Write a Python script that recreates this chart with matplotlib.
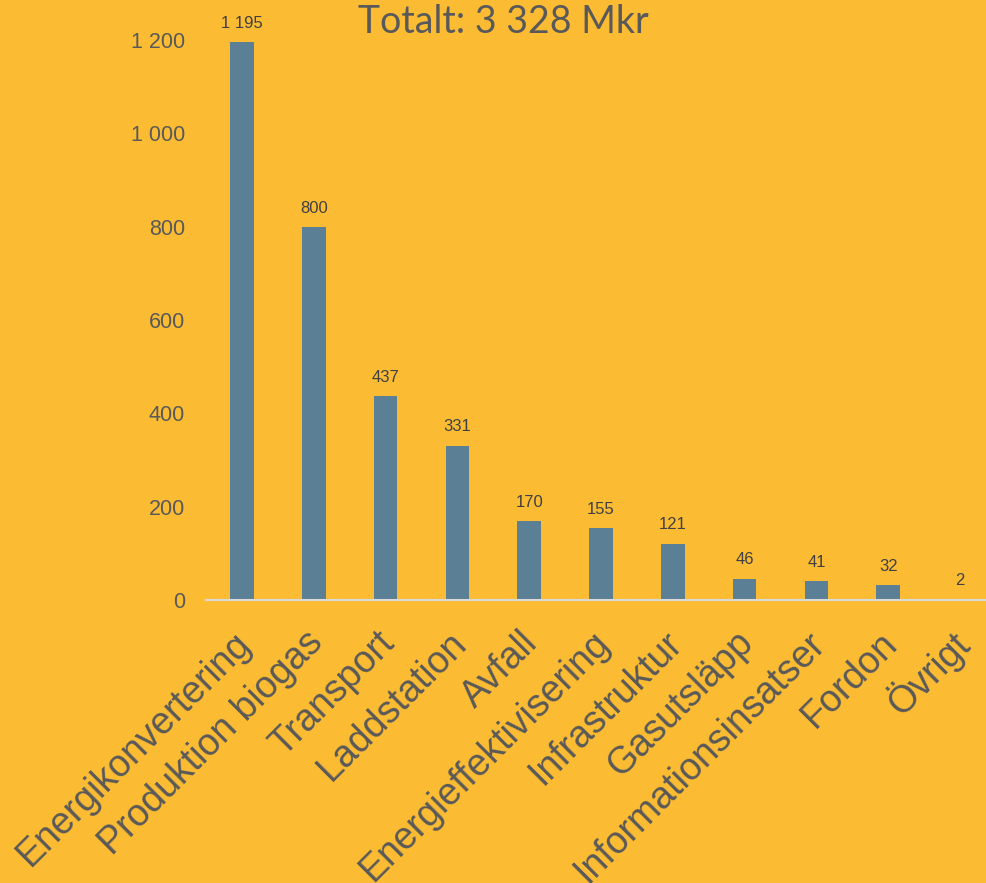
import matplotlib.pyplot as plt
import matplotlib.ticker as mticker

# Data (Mkr)
categories = ['Energikonvertering', 'Produktion biogas', 'Transport', 'Laddstation',
              'Avfall', 'Energieffektivisering', 'Infrastruktur', 'Gasutsläpp',
              'Informationsinsatser', 'Fordon', 'Övrigt']
values = [1195, 800, 437, 331, 170, 155, 121, 46, 41, 32, 2]
yticks = [0, 200, 400, 600, 800, 1000, 1200]
title = 'Totalt: 3 328 Mkr'

bg = '#FBBC34'
bar_color = '#5B7F95'
text_grey = '#595959'


def sv_fmt(v):
    # Swedish style thousands separator (space)
    return f'{int(v):,}'.replace(',', ' ')


plt.rcParams['font.family'] = ['Liberation Sans', 'DejaVu Sans']

fig = plt.figure(figsize=(9.86, 8.83), dpi=100, facecolor=bg)
ax = fig.add_axes([206 / 986, 283 / 883, 790 / 986, 560 / 883])
ax.set_facecolor(bg)

x = list(range(len(categories)))
bars = ax.bar(x, values, width=0.33, color=bar_color, zorder=2)

for xi, v in zip(x, values):
    ax.annotate(sv_fmt(v), (xi, v), xytext=(0, 8), textcoords='offset points',
                ha='center', va='bottom', fontsize=12, color='#404040')

ax.set_xlim(-0.5, len(categories) - 0.5)
ax.set_ylim(0, 1200)
ax.set_yticks(yticks)
ax.yaxis.set_major_formatter(mticker.FuncFormatter(lambda v, p: sv_fmt(v)))
ax.tick_params(axis='y', length=0, pad=15, labelsize=15.5, labelcolor=text_grey)
ax.tick_params(axis='x', length=0, pad=0)

ax.set_xticks(x)
ax.set_xticklabels([])
for xi, lab in zip(x, categories):
    ax.annotate(lab, (xi, 0), xytext=(2.5, -27), textcoords='offset points',
                rotation=45, rotation_mode='anchor', ha='right', va='center',
                fontsize=27, color=text_grey, annotation_clip=False)

for s in ['top', 'right', 'left']:
    ax.spines[s].set_visible(False)
ax.spines['bottom'].set_color('#D9D9D9')
ax.spines['bottom'].set_linewidth(1.5)

fig.text(503 / 986, 1 - 22 / 883, title, ha='center', va='center',
         fontsize=27, color=text_grey, family=['Lato', 'DejaVu Sans'])

fig.savefig('out.png', dpi=100, facecolor=bg)
